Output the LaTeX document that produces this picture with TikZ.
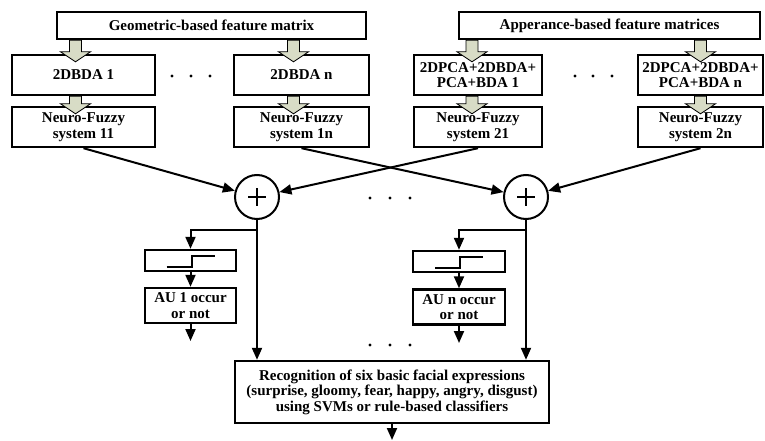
\documentclass[tikz,border=0pt]{standalone}
\usepackage{fontspec}
\setmainfont{Liberation Serif}
\usepackage{tikz}
\usetikzlibrary{arrows.meta,calc}
\definecolor{ArrowFill}{RGB}{216,220,198}

% gray block arrow between two boxes: from node, to node, xshift
\newcommand{\blockarrow}[3]{%
  \filldraw[block style] let \p1=(#1.south), \p2=([xshift=#3]#2.north) in
    (\x2-6pt,\y1) -- (\x2-6pt,\y2+2pt) -- (\x2-15pt,\y2+2pt) -- (\x2,\y2-8pt)
    -- (\x2+15pt,\y2+2pt) -- (\x2+6pt,\y2+2pt) -- (\x2+6pt,\y1) -- cycle;}

\begin{document}
\begin{tikzpicture}
                        [
                            x=1pt, y=-1pt,
                            box style/.style={draw, line width=2.4pt, inner sep=0pt, align=center,
                              font=\fontsize{15}{15.5}\selectfont\bfseries},
                            sum style/.style={draw, circle, line width=2pt, minimum size=44pt, inner sep=0pt},
                            line style/.style={line width=2pt, -{Triangle[length=12pt,width=10pt]}},
                            block style/.style={fill=ArrowFill, draw=black, line width=0.8pt}
                        ]
                        \useasboundingbox (0,0) rectangle (765,441);
                        % top matrices
                        \node[box style, minimum width=309pt, minimum height=27pt] (geo) at (211.5,25.5) {Geometric-based feature matrix};
                        \node[box style, minimum width=301pt, minimum height=27pt] (app) at (609.5,25.5) {Apperance-based feature matrices};
                        % reduction boxes
                        \node[box style, minimum width=143pt, minimum height=40pt] (bda1) at (83.5,75) {2DBDA 1};
                        \node[box style, minimum width=135pt, minimum height=40pt] (bdan) at (301.5,75) {2DBDA n};
                        \node[box style, minimum width=128pt, minimum height=40pt] (pca1) at (478,75) {2DPCA+2DBDA+\\PCA+BDA 1};
                        \node[box style, minimum width=125pt, minimum height=40pt] (pcan) at (700.5,75) {2DPCA+2DBDA+\\PCA+BDA n};
                        % neuro-fuzzy systems
                        \node[box style, minimum width=143pt, minimum height=40pt] (nf11) at (83.5,127) {Neuro-Fuzzy\\system 11};
                        \node[box style, minimum width=135pt, minimum height=40pt] (nf1n) at (301.5,127) {Neuro-Fuzzy\\system 1n};
                        \node[box style, minimum width=128pt, minimum height=40pt] (nf21) at (478,127) {Neuro-Fuzzy\\system 21};
                        \node[box style, minimum width=125pt, minimum height=40pt] (nf2n) at (700.5,127) {Neuro-Fuzzy\\system 2n};
                        % block arrows
                        \blockarrow{geo}{bda1}{-8pt}
                        \blockarrow{bda1}{nf11}{-8pt}
                        \blockarrow{geo}{bdan}{-8pt}
                        \blockarrow{bdan}{nf1n}{-8pt}
                        \blockarrow{app}{pca1}{-6pt}
                        \blockarrow{pca1}{nf21}{-6pt}
                        \blockarrow{app}{pcan}{0pt}
                        \blockarrow{pcan}{nf2n}{0pt}
                        % summing junctions
                        \node[sum style] (sum1) at (257,197) {};
                        \node[sum style] (sum2) at (526,197) {};
                        \foreach \s in {sum1,sum2}
                            \draw[line width=1.5pt] (\s.center) ++(-9,0) -- ++(18,0) (\s.center) ++(0,-9) -- ++(0,18);
                        \draw[line style] (nf11.south) -- (sum1);
                        \draw[line style] (nf21.south) -- (sum1);
                        \draw[line style] (nf1n.south) -- (sum2);
                        \draw[line style] (nf2n.south) -- (sum2);
                        % thresholds and AU outputs
                        \node[box style, minimum width=91pt, minimum height=21pt] (step1) at (190.5,260.5) {};
                        \node[box style, minimum width=92pt, minimum height=21pt] (step2) at (459,261.5) {};
                        \foreach \s in {step1,step2}
                            \draw[line width=2pt] (\s.center) ++(-24,6.5) -- ++(25,0) -- ++(0,-11) -- ++(23,0);
                        \node[box style, minimum width=91pt, minimum height=35pt] (au1) at (190.5,305.5) {AU 1 occur\\or not};
                        \node[box style, minimum width=92pt, minimum height=35pt] (au2) at (459,307) {AU n occur\\or not};
                        \node[box style, minimum width=314pt, minimum height=62pt] (rec) at (392,392)
                            {Recognition of six basic facial expressions\\(surprise, gloomy, fear, happy, angry, disgust)\\using SVMs or rule-based classifiers};
                        \coordinate (br1) at (257,230);
                        \coordinate (br2) at (526,230);
                        \coordinate (out1) at (190.5,341);
                        \coordinate (out2) at (459,343);
                        \coordinate (out) at (392,440);
                        \draw[line style] (sum1.south) -- (rec.north -| sum1);
                        \draw[line style] (sum2.south) -- (rec.north -| sum2);
                        \draw[line style] (br1) -| (step1.north);
                        \draw[line style] (br2) -| (step2.north);
                        \draw[line style] (step1) -- (au1);
                        \draw[line style] (step2) -- (au2);
                        \draw[line style] (au1) -- (out1);
                        \draw[line style] (au2) -- (out2);
                        \draw[line style] (rec) -- (out);
                        % ellipsis dots
                        \foreach \x/\y in {172/76,191/76,210/76,575/76,593/76,612/76,370/198,390/198,410/198,370/345,390/345,410/345}
                            \fill (\x,\y) circle (1.6);
                        \end{tikzpicture}
\end{document}
